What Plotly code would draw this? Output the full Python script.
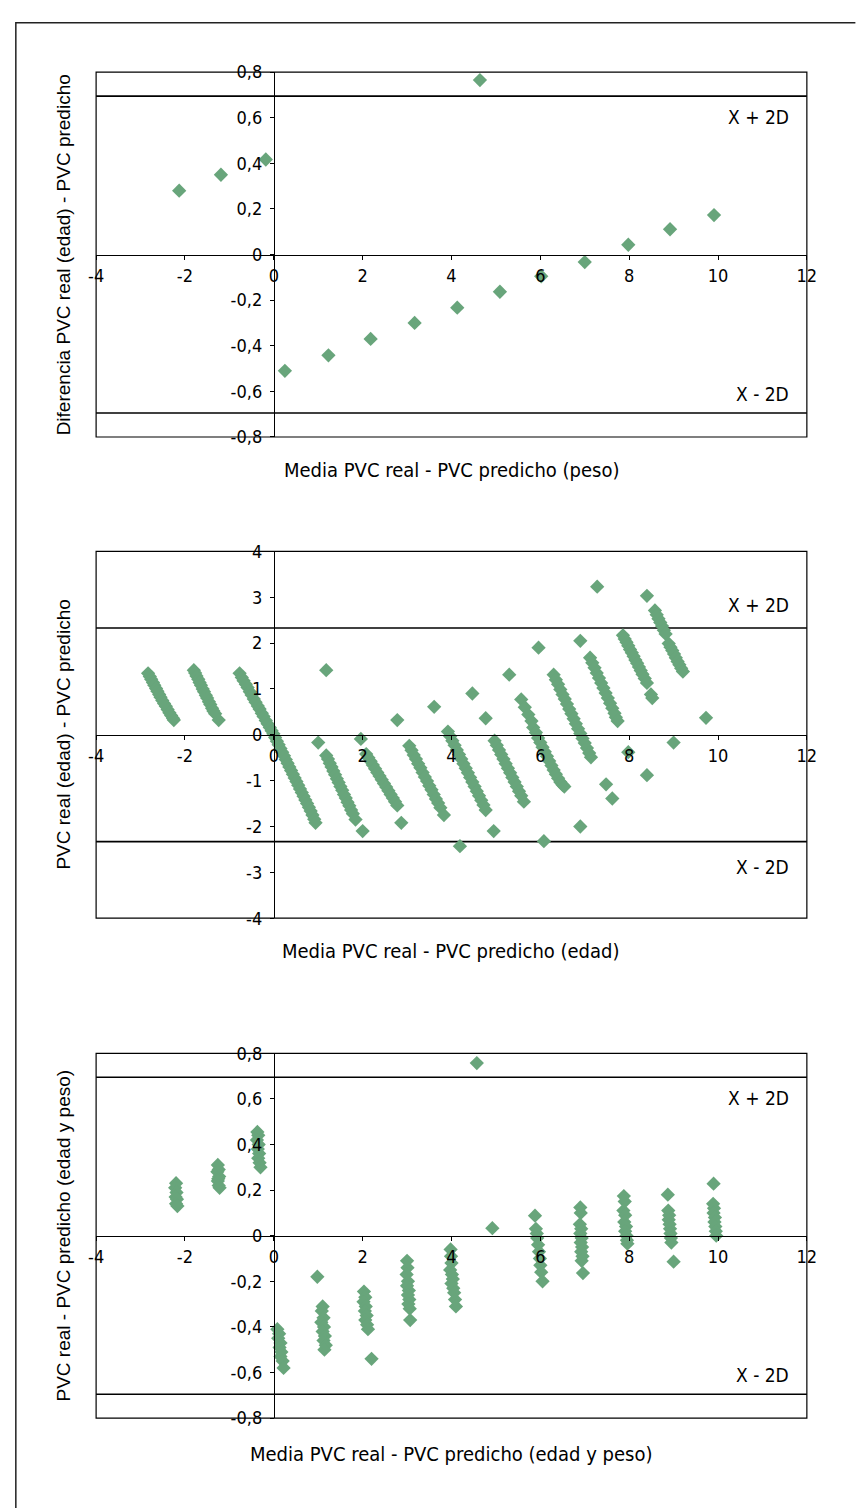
import plotly.graph_objects as go

# ---------------- DATA ----------------
# Panel 1: diferencia edad - peso
peso_media = [-2.13, -1.19, -0.18, 4.64, 0.25, 1.23, 2.18, 3.17, 4.13, 5.09, 6.02, 7.00, 7.98, 8.92, 9.91]
peso_dif = [0.28, 0.35, 0.417, 0.765, -0.51, -0.442, -0.37, -0.30, -0.233, -0.163, -0.095, -0.033, 0.043, 0.111, 0.173]

# Panel 2: edad
edad_media = [
    -2.83, -2.79, -2.76, -2.72, -2.69, -2.65, -2.62, -2.58, -2.55, -2.51, -2.47, -2.43, -2.39, -2.35, -2.31, -2.27, -2.25,
    -1.80, -1.77, -1.74, -1.70, -1.67, -1.64, -1.60, -1.57, -1.53, -1.50, -1.46, -1.43, -1.39, -1.36, -1.32, -1.24,
    -0.77, -0.72, -0.68, -0.63, -0.59, -0.54, -0.50, -0.45, -0.41, -0.36, -0.32, -0.27, -0.23, -0.18, -0.14, -0.09, -0.05, -0.01,
    0.03, 0.07, 0.11, 0.15, 0.19, 0.23, 0.27, 0.31, 0.35, 0.39, 0.43, 0.47, 0.51, 0.55, 0.59, 0.63, 0.67, 0.71, 0.75, 0.79, 0.83, 0.87, 0.91, 0.94,
    1.18, 1.00,
    1.18, 1.22, 1.26, 1.30, 1.34, 1.38, 1.42, 1.46, 1.50, 1.54, 1.58, 1.62, 1.66, 1.70, 1.74, 1.78, 1.84,
    1.96, 2.00,
    2.08, 2.13, 2.18, 2.23, 2.28, 2.33, 2.38, 2.43, 2.48, 2.53, 2.58, 2.63, 2.68, 2.73, 2.78,
    2.87, 2.78,
    3.05, 3.10, 3.15, 3.20, 3.25, 3.30, 3.35, 3.40, 3.45, 3.50, 3.55, 3.60, 3.65, 3.70, 3.75, 3.83,
    3.61,
    3.92, 3.97, 4.02, 4.07, 4.12, 4.17, 4.22, 4.27, 4.32, 4.37, 4.42, 4.47, 4.52, 4.57, 4.62, 4.67, 4.72, 4.77,
    4.19, 4.47, 4.77,
    4.97, 5.02, 5.07, 5.12, 5.17, 5.22, 5.27, 5.32, 5.37, 5.42, 5.47, 5.52, 5.57, 5.63,
    4.95, 5.30,
    5.57, 5.65, 5.73, 5.80, 5.84, 5.90, 5.95, 6.00, 6.05, 6.10, 6.15, 6.20, 6.25, 6.30, 6.35, 6.40, 6.45, 6.50, 6.54,
    5.96,
    6.30, 6.35, 6.40, 6.45, 6.50, 6.55, 6.60, 6.65, 6.70, 6.75, 6.80, 6.85, 6.90, 6.95, 7.00, 7.05, 7.10, 7.14,
    6.90, 6.90, 6.08,
    7.12, 7.17, 7.22, 7.27, 7.32, 7.37, 7.42, 7.47, 7.52, 7.57, 7.62, 7.67, 7.70, 7.74,
    7.28, 7.48, 7.62, 7.95,
    7.86, 7.90, 7.94, 7.98, 8.02, 8.06, 8.10, 8.14, 8.18, 8.22, 8.26, 8.30, 8.35, 8.40,
    8.49, 8.52, 7.98, 8.40, 8.40,
    8.58, 8.62, 8.66, 8.70, 8.74, 8.78, 8.82,
    8.89, 8.93, 8.97, 9.01, 9.05, 9.09, 9.13, 9.17, 9.21,
    9.00, 9.73,
]
edad_dif = [
    1.34, 1.27, 1.21, 1.14, 1.08, 1.01, 0.95, 0.88, 0.82, 0.75, 0.68, 0.62, 0.55, 0.48, 0.42, 0.36, 0.32,
    1.41, 1.35, 1.28, 1.21, 1.14, 1.08, 1.00, 0.94, 0.86, 0.80, 0.72, 0.66, 0.58, 0.52, 0.46, 0.32,
    1.34, 1.25, 1.18, 1.10, 1.03, 0.94, 0.87, 0.78, 0.71, 0.63, 0.56, 0.47, 0.40, 0.31, 0.24, 0.16, 0.09, 0.02,
    -0.06, -0.14, -0.22, -0.30, -0.38, -0.46, -0.54, -0.62, -0.70, -0.78, -0.86, -0.94, -1.02, -1.10, -1.18, -1.26, -1.34, -1.42, -1.50, -1.58, -1.66, -1.75, -1.84, -1.92,
    1.41, -0.17,
    -0.45, -0.53, -0.62, -0.70, -0.79, -0.87, -0.96, -1.04, -1.13, -1.21, -1.30, -1.38, -1.47, -1.55, -1.64, -1.72, -1.85,
    -0.09, -2.10,
    -0.42, -0.50, -0.58, -0.66, -0.74, -0.82, -0.90, -0.98, -1.06, -1.14, -1.22, -1.30, -1.38, -1.46, -1.54,
    -1.92, 0.32,
    -0.24, -0.34, -0.44, -0.53, -0.63, -0.72, -0.82, -0.92, -1.01, -1.11, -1.20, -1.30, -1.40, -1.49, -1.59, -1.75,
    0.61,
    0.07, -0.03, -0.13, -0.23, -0.33, -0.43, -0.53, -0.63, -0.73, -0.83, -0.93, -1.03, -1.13, -1.23, -1.33, -1.43, -1.53, -1.64,
    -2.43, 0.90, 0.36,
    -0.13, -0.23, -0.33, -0.43, -0.53, -0.63, -0.73, -0.83, -0.93, -1.03, -1.13, -1.23, -1.33, -1.46,
    -2.10, 1.31,
    0.77, 0.60, 0.44, 0.30, 0.16, 0.05, -0.07, -0.17, -0.27, -0.37, -0.47, -0.57, -0.67, -0.77, -0.86, -0.95, -1.03, -1.09, -1.13,
    1.90,
    1.31, 1.20, 1.10, 0.99, 0.88, 0.78, 0.67, 0.56, 0.46, 0.35, 0.24, 0.13, 0.03, -0.08, -0.18, -0.29, -0.40, -0.49,
    2.05, -2.00, -2.32,
    1.68, 1.57, 1.46, 1.35, 1.24, 1.13, 1.02, 0.91, 0.80, 0.69, 0.58, 0.47, 0.38, 0.30,
    3.23, -1.08, -1.39, 4.04,
    2.17, 2.09, 2.02, 1.94, 1.86, 1.79, 1.71, 1.63, 1.56, 1.48, 1.40, 1.32, 1.23, 1.13,
    0.88, 0.80, -0.38, -0.88, 3.03,
    2.71, 2.62, 2.53, 2.45, 2.37, 2.28, 2.20,
    1.99, 1.91, 1.84, 1.76, 1.68, 1.60, 1.53, 1.45, 1.38,
    -0.17, 0.37,
]

# Panel 3: edad y peso
ep_media = [
    -2.20, -2.22, -2.19, -2.21, -2.18, -2.20, -2.17,
    -1.26, -1.24, -1.27, -1.23, -1.25, -1.26, -1.24, -1.22,
    -0.37, -0.35, -0.38, -0.34, -0.36, -0.33, -0.35, -0.32, -0.30,
    4.55, 4.57,
    0.08, 0.12, 0.10, 0.15, 0.13, 0.17, 0.15, 0.20, 0.22,
    0.98,
    1.10, 1.08, 1.12, 1.07, 1.13, 1.10, 1.15, 1.12, 1.17, 1.14,
    2.03, 2.06, 2.02, 2.07, 2.05, 2.09, 2.06, 2.10, 2.12, 2.20,
    3.00, 3.01, 2.99, 3.02, 3.00, 3.04, 3.02, 3.05, 3.03, 3.06, 3.07,
    3.98, 3.99, 4.00, 3.97, 4.01, 4.03, 4.00, 4.04, 4.06, 4.08, 4.10,
    4.92,
    5.88, 5.90, 5.92, 5.93, 5.95, 5.97, 5.99, 6.00, 6.02, 6.05,
    6.90, 6.91, 6.89, 6.92, 6.90, 6.93, 6.91, 6.94, 6.92, 6.95, 6.93, 6.96,
    7.88, 7.90, 7.87, 7.91, 7.89, 7.93, 7.91, 7.94, 7.95, 7.96,
    8.87, 8.88, 8.90, 8.89, 8.91, 8.92, 8.93, 8.94, 8.95, 9.00,
    9.90, 9.89, 9.91, 9.90, 9.93, 9.92, 9.94, 9.95, 9.96,
]
ep_dif = [
    0.23, 0.21, 0.19, 0.17, 0.16, 0.14, 0.13,
    0.31, 0.29, 0.28, 0.26, 0.25, 0.24, 0.22, 0.21,
    0.455, 0.44, 0.42, 0.40, 0.38, 0.36, 0.34, 0.32, 0.30,
    0.807, 0.757,
    -0.41, -0.43, -0.45, -0.47, -0.49, -0.51, -0.53, -0.55, -0.58,
    -0.18,
    -0.31, -0.33, -0.36, -0.38, -0.40, -0.42, -0.44, -0.46, -0.48, -0.50,
    -0.245, -0.27, -0.29, -0.31, -0.33, -0.35, -0.37, -0.39, -0.41, -0.54,
    -0.11, -0.14, -0.17, -0.20, -0.22, -0.24, -0.26, -0.28, -0.30, -0.32, -0.37,
    -0.06, -0.09, -0.12, -0.15, -0.17, -0.19, -0.21, -0.23, -0.25, -0.28, -0.31,
    0.033,
    0.088, 0.03, 0.01, -0.01, -0.04, -0.07, -0.10, -0.13, -0.16, -0.20,
    0.124, 0.10, 0.05, 0.03, 0.01, -0.01, -0.03, -0.05, -0.07, -0.09, -0.11, -0.164,
    0.174, 0.15, 0.11, 0.09, 0.06, 0.04, 0.02, 0.00, -0.02, -0.035,
    0.18, 0.11, 0.09, 0.07, 0.05, 0.03, 0.01, -0.01, -0.03, -0.114,
    0.228, 0.14, 0.12, 0.10, 0.08, 0.06, 0.04, 0.02, 0.00,
]

limites_peso = [0.695, -0.695]
limites_edad = [2.33, -2.33]
limites_ep = [0.695, -0.695]

x_ticks = [-4, -2, 0, 2, 4, 6, 8, 10, 12]
x_ticktext = ["-4", "-2", "0", "2", "4", "6", "8", "10", "12"]
y_ticks_dec = [-0.8, -0.6, -0.4, -0.2, 0, 0.2, 0.4, 0.6, 0.8]
y_ticktext_dec = ["-0,8", "-0,6", "-0,4", "-0,2", "0", "0,2", "0,4", "0,6", "0,8"]
y_ticks_edad = [-4, -3, -2, -1, 0, 1, 2, 3, 4]
y_ticktext_edad = ["-4", "-3", "-2", "-1", "0", "1", "2", "3", "4"]

y_titles = ["Diferencia PVC real (edad) - PVC predicho",
            "PVC real (edad) - PVC predicho",
            "PVC real - PVC predicho (edad y peso)"]
x_titles = ["Media PVC real - PVC predicho (peso)",
            "Media PVC real - PVC predicho (edad)",
            "Media PVC real - PVC predicho (edad y peso)"]
label_sup = "X + 2D"
label_inf = "X - 2D"

# ---------------- LAYOUT ----------------
W, H = 857, 1508
NARROW = "DejaVu Sans Condensed, Liberation Sans Narrow, sans-serif"
REG = "Liberation Sans, Arial, sans-serif"
GREEN = "#68a57b"

x_dom = [90 / W, 816 / W]
panel_px = [(62, 432), (548, 920), (1057, 1427)]
y_doms = [[1 - b / H, 1 - t / H] for (t, b) in panel_px]
xrange_ = [-4, 12]
yzero_pos = x_dom[0] + (0 - xrange_[0]) / (xrange_[1] - xrange_[0]) * (x_dom[1] - x_dom[0])

panels = [
    (peso_media, peso_dif, [-0.8, 0.8], y_ticks_dec, y_ticktext_dec, limites_peso, (0.605, -0.61)),
    (edad_media, edad_dif, [-4, 4], y_ticks_edad, y_ticktext_edad, limites_edad, (2.82, -2.88)),
    (ep_media, ep_dif, [-0.8, 0.8], y_ticks_dec, y_ticktext_dec, limites_ep, (0.605, -0.609)),
]
xtitle_y_px = [465, 953, 1463]

fig = go.Figure()
shapes = []
annotations = []
layout_axes = {}

for i, (xs, ys, yr, yt, ytt, lims, lab_y) in enumerate(panels):
    n = "" if i == 0 else str(i + 1)
    xref, yref = "x" + n, "y" + n
    fig.add_trace(go.Scatter(
        x=xs, y=ys, mode="markers", xaxis=xref, yaxis=yref,
        marker=dict(symbol="diamond", size=11, color=GREEN, line=dict(width=0)),
        cliponaxis=False, showlegend=False, hoverinfo="skip"))
    ydom = y_doms[i]
    xpos = ydom[0] + (0 - yr[0]) / (yr[1] - yr[0]) * (ydom[1] - ydom[0])
    layout_axes["xaxis" + n] = dict(
        domain=x_dom, range=xrange_, anchor="free", position=xpos,
        tickmode="array", tickvals=x_ticks, ticktext=x_ticktext,
        ticks="outside", ticklen=4, tickwidth=1, tickcolor="black",
        showline=True, linecolor="black", linewidth=1.6,
        showgrid=False, zeroline=False, ticklabelstandoff=0,
        tickfont=dict(family=NARROW, size=18, color="black"), fixedrange=True)
    layout_axes["yaxis" + n] = dict(
        domain=ydom, range=yr, anchor="free", position=yzero_pos,
        tickmode="array", tickvals=yt, ticktext=ytt,
        ticks="outside", ticklen=4, tickwidth=1, tickcolor="black",
        showline=True, linecolor="black", linewidth=1.6,
        showgrid=False, zeroline=False, ticklabelstandoff=4,
        tickfont=dict(family=NARROW, size=18, color="black"), fixedrange=True)
    shapes.append(dict(type="rect", xref=xref + " domain", yref=yref + " domain",
                       x0=0, x1=1, y0=0, y1=1, line=dict(color="black", width=1.2), layer="below"))
    for lv in lims:
        shapes.append(dict(type="line", xref=xref + " domain", yref=yref,
                           x0=0, x1=1, y0=lv, y1=lv, line=dict(color="black", width=1.6), layer="below"))
    annotations.append(dict(x=11.65, y=lab_y[0], xref=xref, yref=yref, text=label_sup,
                            showarrow=False, xanchor="right", yanchor="middle",
                            font=dict(family=NARROW, size=19, color="black")))
    annotations.append(dict(x=11.65, y=lab_y[1], xref=xref, yref=yref, text=label_inf,
                            showarrow=False, xanchor="right", yanchor="middle",
                            font=dict(family=NARROW, size=19, color="black")))
    annotations.append(dict(x=57 / W, y=(ydom[0] + ydom[1]) / 2, xref="paper", yref="paper",
                            text=y_titles[i], textangle=-90, showarrow=False,
                            xanchor="center", yanchor="middle",
                            font=dict(family=REG, size=19, color="black")))
    annotations.append(dict(x=(x_dom[0] + x_dom[1]) / 2, y=1 - xtitle_y_px[i] / H,
                            xref="paper", yref="paper", text=x_titles[i], showarrow=False,
                            xanchor="center", yanchor="middle",
                            font=dict(family=NARROW, size=20, color="black")))

# outer frame (left and top edges)
fx, fy = 8 / W, 1 - 12 / H
shapes.append(dict(type="path", xref="paper", yref="paper",
                   path=f"M {fx},-0.01 L {fx},{fy} L 1.01,{fy}",
                   line=dict(color="#222222", width=1.5)))

fig.update_layout(
    width=W, height=H, autosize=False,
    margin=dict(l=0, r=0, t=0, b=0),
    paper_bgcolor="white", plot_bgcolor="white",
    showlegend=False, shapes=shapes, annotations=annotations,
    **layout_axes)

fig.write_html("out.html",
               config={"displayModeBar": False, "staticPlot": True},
               post_script="document.body.style.margin='0';document.body.style.padding='0';"
                           "document.body.style.overflow='hidden';")
